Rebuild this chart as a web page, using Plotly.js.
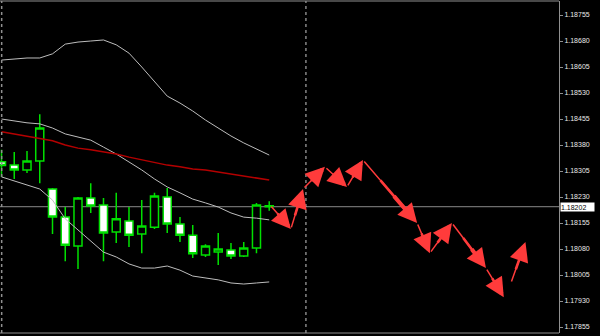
<!DOCTYPE html>
<html>
<head>
<meta charset="utf-8">
<script src="https://cdn.plot.ly/plotly-3.0.1.min.js"></script>
<style>
html,body{margin:0;padding:0;background:#000;}
#chart{width:600px;height:336px;}
</style>
</head>
<body>
<div id="chart"></div>
<script>
// Bar index
var barIndex = [0,1,2,3,4,5,6,7,8,9,10,11,12,13,14,15,16,17,18,19,20,21];
var openP  = [1.18332,1.18322,1.18308,1.18334,1.18253,1.18172,1.18089,1.18227,1.18207,1.18129,1.18161,1.18123,1.18143,1.18230,1.18152,1.18120,1.18063,1.18071,1.18077,1.18060,1.18083,1.18205];
var highP  = [1.18366,1.18360,1.18363,1.18469,1.18256,1.18201,1.18230,1.18270,1.18227,1.18242,1.18201,1.18221,1.18242,1.18256,1.18172,1.18149,1.18094,1.18126,1.18097,1.18100,1.18213,1.18218];
var lowP   = [1.18288,1.18282,1.18299,1.18270,1.18123,1.18045,1.18022,1.18184,1.18045,1.18097,1.18086,1.18068,1.18138,1.18126,1.18100,1.18054,1.18057,1.18034,1.18051,1.18057,1.18068,1.18190];
var closeP = [1.18321,1.18308,1.18334,1.18429,1.18172,1.18091,1.18227,1.18204,1.18126,1.18167,1.18120,1.18146,1.18233,1.18152,1.18120,1.18066,1.18089,1.18080,1.18060,1.18083,1.18207,1.18202];

// Bollinger bands and moving average
var bbUpper  = [1.18625,1.18628,1.18631,1.18631,1.18643,1.18671,1.18677,1.18680,1.18683,1.18669,1.18645,1.18605,1.18562,1.18521,1.18501,1.18478,1.18452,1.18429,1.18406,1.18386,1.18369,1.18351];
var bbMiddle = [1.18455,1.18449,1.18444,1.18441,1.18429,1.18412,1.18403,1.18394,1.18374,1.18354,1.18331,1.18308,1.18282,1.18259,1.18242,1.18224,1.18213,1.18201,1.18184,1.18172,1.18169,1.18164];
var bbLower  = [1.18288,1.18276,1.18265,1.18253,1.18221,1.18167,1.18135,1.18103,1.18071,1.18057,1.18037,1.18025,1.18025,1.18031,1.18019,1.18002,1.17996,1.17991,1.17982,1.17979,1.17982,1.17985];
var maRed    = [1.18418,1.18412,1.18406,1.18400,1.18392,1.18380,1.18371,1.18366,1.18360,1.18354,1.18345,1.18337,1.18328,1.18322,1.18317,1.18311,1.18308,1.18302,1.18296,1.18291,1.18285,1.18279];

// Forecast arrows (tail -> head)
var arrowFromX = [21.06,22.7,23.65,25.37,27.1,28.35,32.6,33.6,35.33,38.0,39.96];
var arrowFromY = [1.18207,1.18138,1.18253,1.18317,1.18259,1.18337,1.18155,1.18068,1.18155,1.18025,1.17982];
var arrowToX   = [22.7,23.65,25.37,27.1,28.35,32.6,33.6,35.33,38.0,39.4,41.1];
var arrowToY   = [1.18138,1.18253,1.18317,1.18259,1.18337,1.18155,1.18068,1.18155,1.18025,1.17941,1.18100];

// Current price and axis ticks
var currentPrice = 1.18202;
var currentLabel = '1.18202';
var futureLineX = 23.88;
var tickValues = [1.18755,1.18680,1.18605,1.18530,1.18455,1.18380,1.18305,1.18230,1.18155,1.18080,1.18005,1.17930,1.17855];
var tickLabels = ['1.18755','1.18680','1.18605','1.18530','1.18455','1.18380','1.18305','1.18230','1.18155','1.18080','1.18005','1.17930','1.17855'];

var bandStyle = {color:'#bdbdbd', width:1};

var traces = [
  {type:'scatter', mode:'lines', x:barIndex, y:bbUpper, line:bandStyle, hoverinfo:'skip'},
  {type:'scatter', mode:'lines', x:barIndex, y:bbMiddle, line:bandStyle, hoverinfo:'skip'},
  {type:'scatter', mode:'lines', x:barIndex, y:bbLower, line:bandStyle, hoverinfo:'skip'},
  {type:'scatter', mode:'lines', x:barIndex, y:maRed, line:{color:'#b40000', width:1.5}, hoverinfo:'skip'},
  {type:'candlestick', x:barIndex, open:openP, high:highP, low:lowP, close:closeP,
   whiskerwidth:0,
   increasing:{line:{color:'#00e000', width:1.5}, fillcolor:'#000000'},
   decreasing:{line:{color:'#00e000', width:1.5}, fillcolor:'#ffffff'},
   hoverinfo:'skip'}
];

var arrowColor = '#ff3b3b';
// tapered shaft: segments [startFraction, endFraction, width], then the head
var shaftParts = [[0.0, 0.8, 1.5], [0.3, 0.85, 2.6], [0.55, 0.88, 4]];
function lerp(a, b, t) { return a + (b - a) * t; }

var annotations = [];
for (var i = 0; i < arrowToX.length; i++) {
  for (var s = 0; s < shaftParts.length; s++) {
    var p = shaftParts[s];
    annotations.push({
      x: lerp(arrowFromX[i], arrowToX[i], p[1]), y: lerp(arrowFromY[i], arrowToY[i], p[1]),
      xref:'x', yref:'y',
      ax: lerp(arrowFromX[i], arrowToX[i], p[0]), ay: lerp(arrowFromY[i], arrowToY[i], p[0]),
      axref:'x', ayref:'y',
      text:'', showarrow:true, arrowhead:0, arrowwidth:p[2],
      arrowcolor:arrowColor, standoff:0, startstandoff:0
    });
  }
  annotations.push({
    x: arrowToX[i], y: arrowToY[i], xref:'x', yref:'y',
    ax: lerp(arrowFromX[i], arrowToX[i], 0.7), ay: lerp(arrowFromY[i], arrowToY[i], 0.7),
    axref:'x', ayref:'y',
    text:'', showarrow:true, arrowhead:2, arrowsize:1.2, arrowwidth:3.2,
    arrowcolor:arrowColor, standoff:0, startstandoff:0
  });
}
annotations.push({
  x:1, xref:'paper', xanchor:'left', xshift:1,
  y:currentPrice, yref:'y', yanchor:'middle',
  text:currentLabel, showarrow:false, bgcolor:'#ffffff',
  font:{family:'Liberation Sans, Arial, sans-serif', size:7, color:'#000000'},
  borderpad:0, width:33, height:8, align:'left'
});

var layout = {
  width:600, height:336,
  margin:{l:0, r:41, t:1, b:3, pad:0},
  paper_bgcolor:'#000000', plot_bgcolor:'#000000',
  showlegend:false, hovermode:false,
  boxgap:0.1, boxgroupgap:0.3,
  xaxis:{range:[-0.118, 43.73], showgrid:false, zeroline:false, showticklabels:false,
         ticks:'', showline:false, rangeslider:{visible:false}, fixedrange:true},
  yaxis:{range:[1.178377, 1.187954], side:'right', showgrid:false, zeroline:false,
         tickmode:'array', tickvals:tickValues, ticktext:tickLabels,
         ticks:'outside', ticklen:3, tickcolor:'#909090', tickwidth:1,
         showline:true, linecolor:'#909090', linewidth:1,
         tickfont:{family:'Liberation Sans, Arial, sans-serif', size:7, color:'#e8e8e8'},
         fixedrange:true},
  shapes:[
    {type:'line', xref:'paper', x0:0, x1:1, yref:'y', y0:currentPrice, y1:currentPrice,
     line:{color:'#8a8a8a', width:1}, layer:'below'},
    {type:'line', xref:'x', x0:futureLineX, x1:futureLineX, yref:'paper', y0:0, y1:1,
     line:{color:'#c8c8c8', width:1, dash:'dot'}, layer:'below'},
    {type:'line', xref:'paper', x0:0.003, x1:0.003, yref:'paper', y0:0, y1:1,
     line:{color:'#909090', width:1.5, dash:'dot'}},
    {type:'line', xref:'paper', x0:0, x1:1, yref:'paper', y0:1, y1:1,
     line:{color:'#909090', width:1}},
    {type:'line', xref:'paper', x0:0, x1:1, yref:'paper', y0:0, y1:0,
     line:{color:'#909090', width:1}}
  ],
  annotations:annotations
};

Plotly.newPlot('chart', traces, layout, {staticPlot:true, displayModeBar:false});
</script>
</body>
</html>
